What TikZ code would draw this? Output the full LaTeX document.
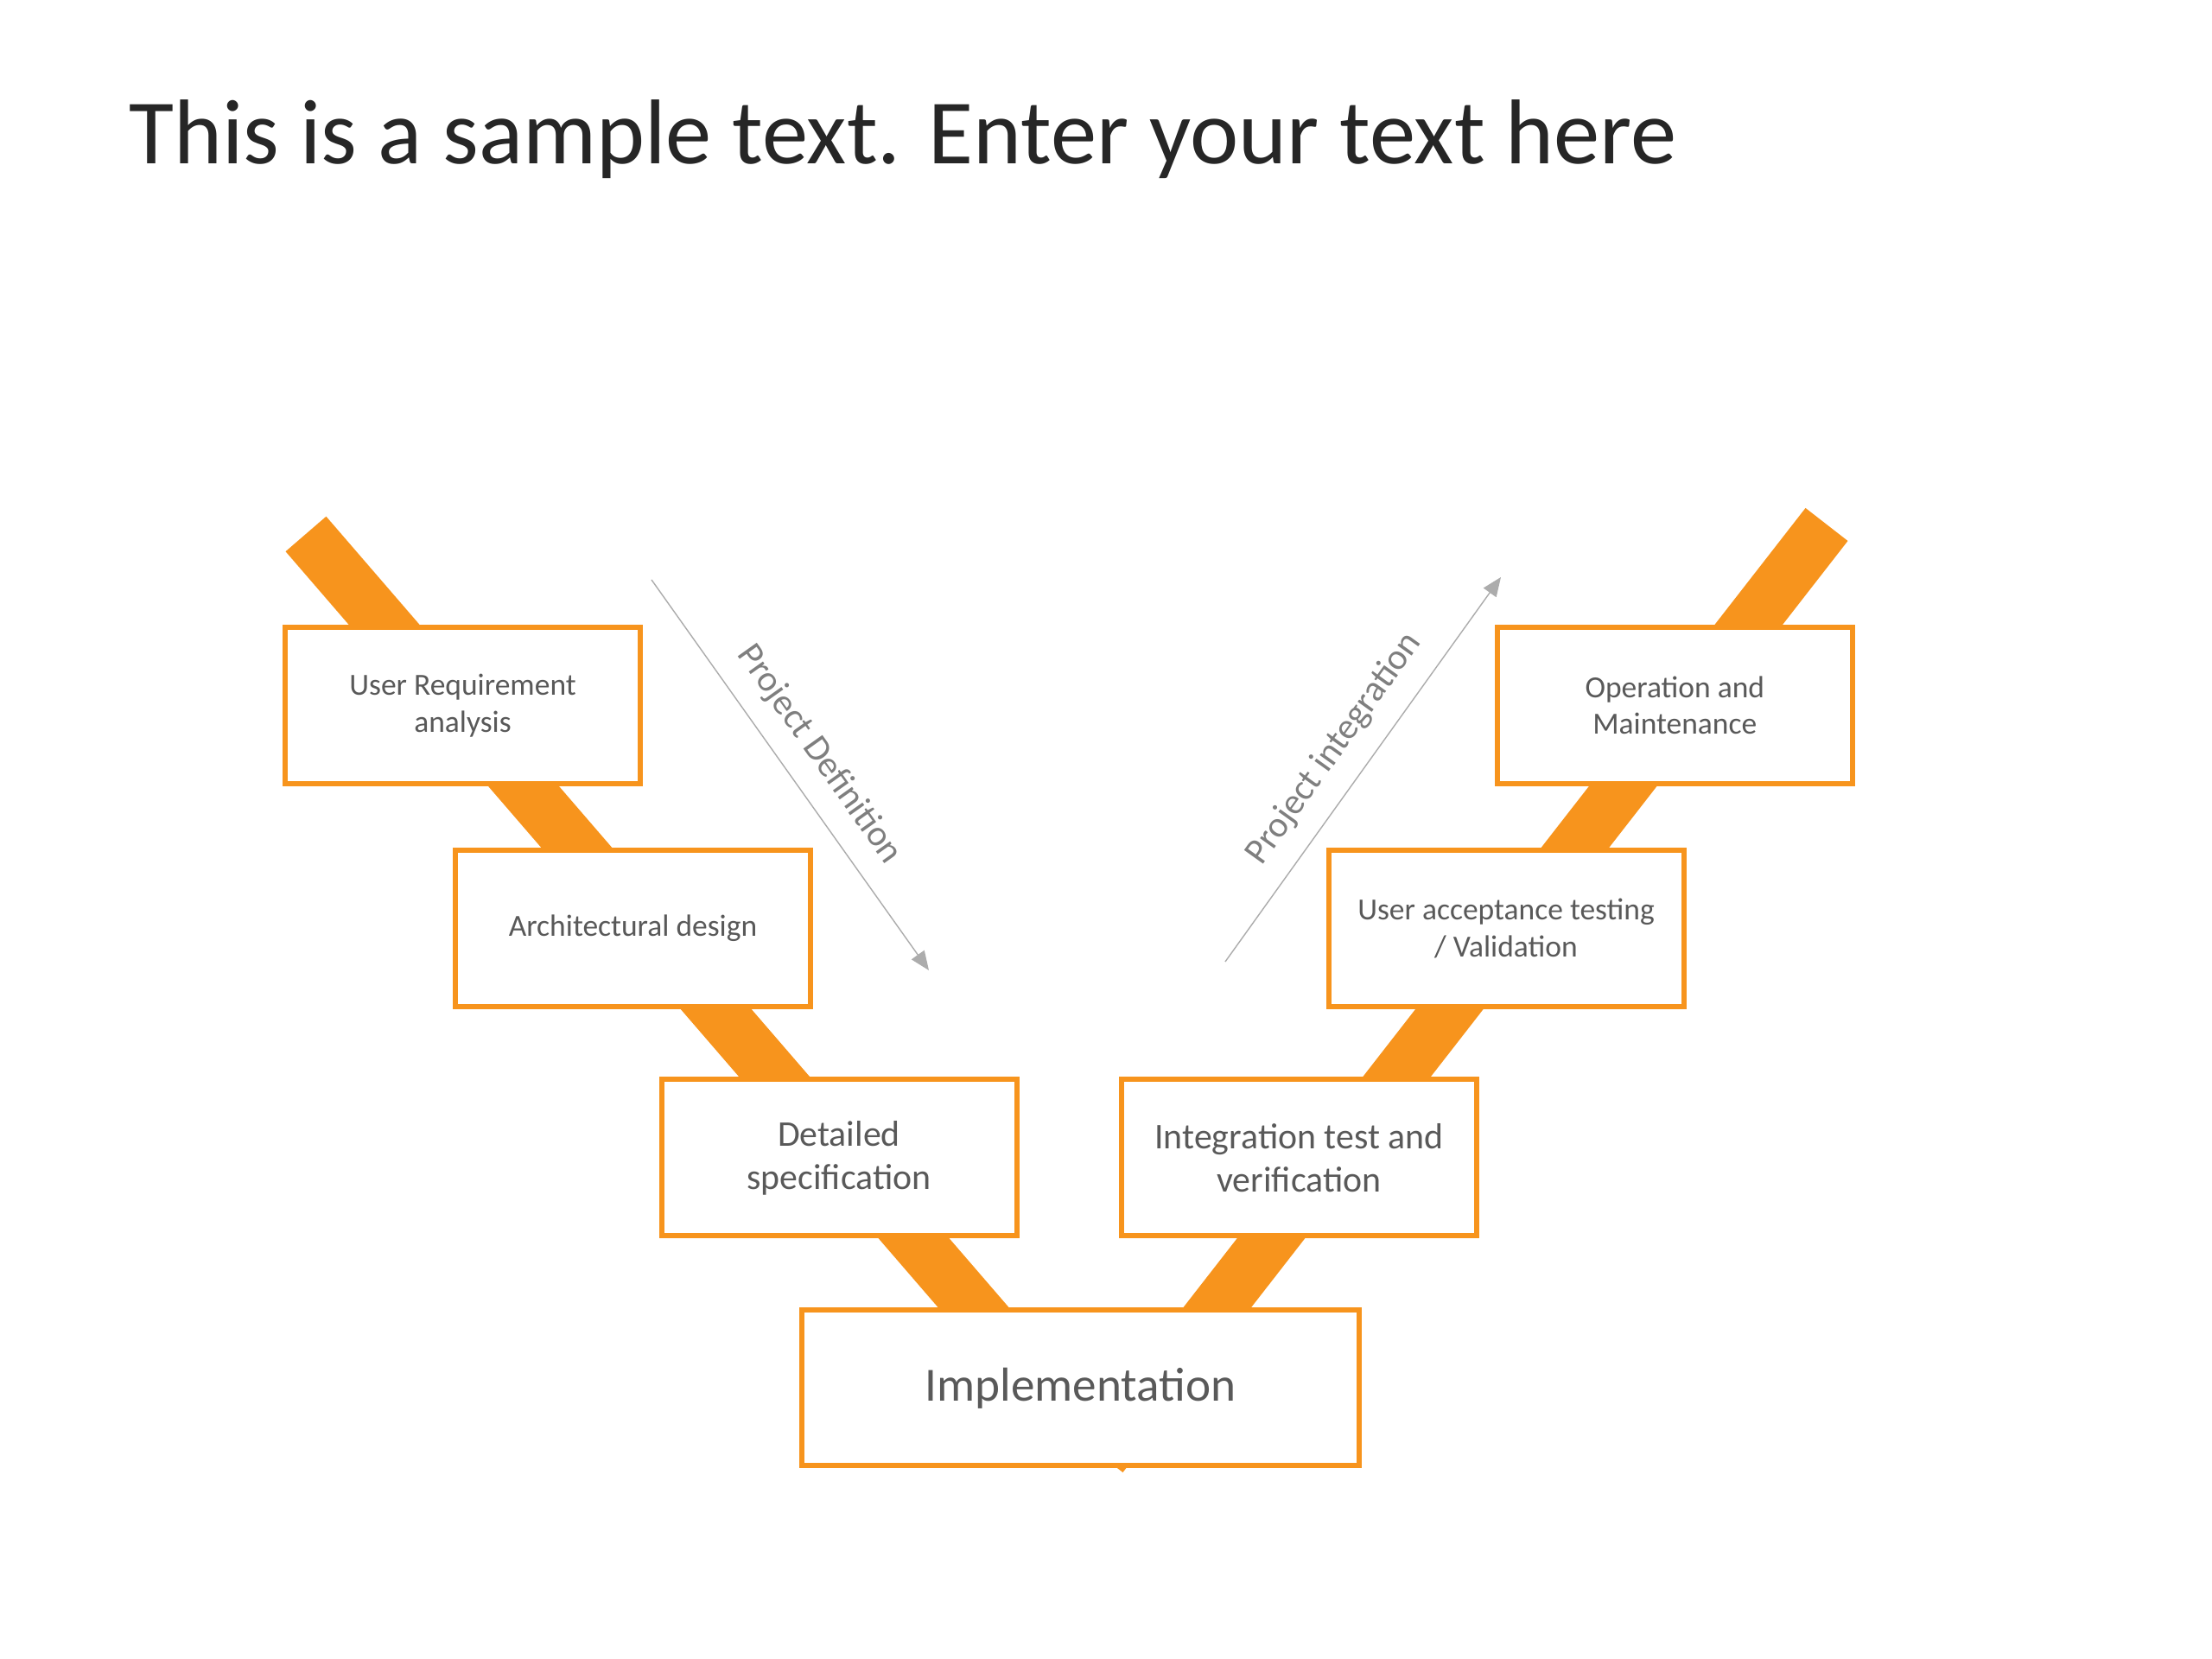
\documentclass[tikz,border=0pt]{standalone}
\usepackage{fontspec}
\setmainfont{Carlito}
\usepackage{tikz}
\usetikzlibrary{arrows.meta}
\definecolor{v orange}{HTML}{F7941D}
\definecolor{text gray}{HTML}{595959}
\definecolor{title gray}{HTML}{262626}
\definecolor{label gray}{HTML}{7F7F7F}
\colorlet{arrow gray}{gray!65}

\begin{document}
\begin{tikzpicture}[
	phase/.style={draw=v orange, line width=0.06cm, fill=white, text=text gray, align=center, inner sep=0, minimum width=4.11cm, minimum height=1.81cm, font=\fontsize{10.1}{12.1}\selectfont},
	big phase/.style={phase, font=\fontsize{11.9}{14.3}\selectfont},
	band/.style={v orange, line width=0.62cm},
	flow/.style={arrow gray, line width=0.4pt, -{Triangle[length=2.2mm, width=1.8mm]}},
	flow label/.style={sloped, above=3pt, text=label gray, font=\fontsize{12}{14.4}\selectfont}]
			\path[use as bounding box, fill=white] (0,0) rectangle (25.6,19.2);
			\node[anchor=base west, inner sep=0, text=title gray, font=\fontsize{30.3}{36}\selectfont] (title) at (1.49,17.30) {This is a sample text. Enter your text here};
			% the V behind the boxes
			\coordinate (lTop) at (3.54,13.02);
			\coordinate (rTop) at (21.14,13.13);
			\coordinate (vtx) at (12.75,2.35);
			\coordinate (lEnd) at (12.62,2.50);
			\draw[band] (lTop) -- (lEnd);
			\draw[band] (rTop) -- (vtx);
			\node[phase] (req) at (5.355,11.035) {User Requirement\\analysis};
			\node[phase] (arch) at (7.325,8.455) {Architectural design};
			\node[big phase] (spec) at (9.71,5.80) {Detailed\\specification};
			\node[phase, minimum width=6.455cm, minimum height=1.80cm, font=\fontsize{15.7}{18.8}\selectfont] (impl) at (12.503,3.136) {Implementation};
			\node[big phase] (itest) at (15.034,5.80) {Integration test and\\verification};
			\node[phase] (uat) at (17.43,8.455) {User acceptance testing\\/ Validation};
			\node[phase] (ops) at (19.383,11.035) {Operation and\\Maintenance};
			% arrows
			\coordinate (defS) at (7.54,12.49);
			\coordinate (defE) at (10.75,7.97);
			\draw[flow] (defS) -- node[flow label] (defLabel) {Project Definition} (defE);
			\coordinate (intS) at (14.18,8.07);
			\coordinate (intE) at (17.37,12.52);
			\draw[flow] (intS) -- node[flow label] (intLabel) {Project integration} (intE);
		\end{tikzpicture}
\end{document}
